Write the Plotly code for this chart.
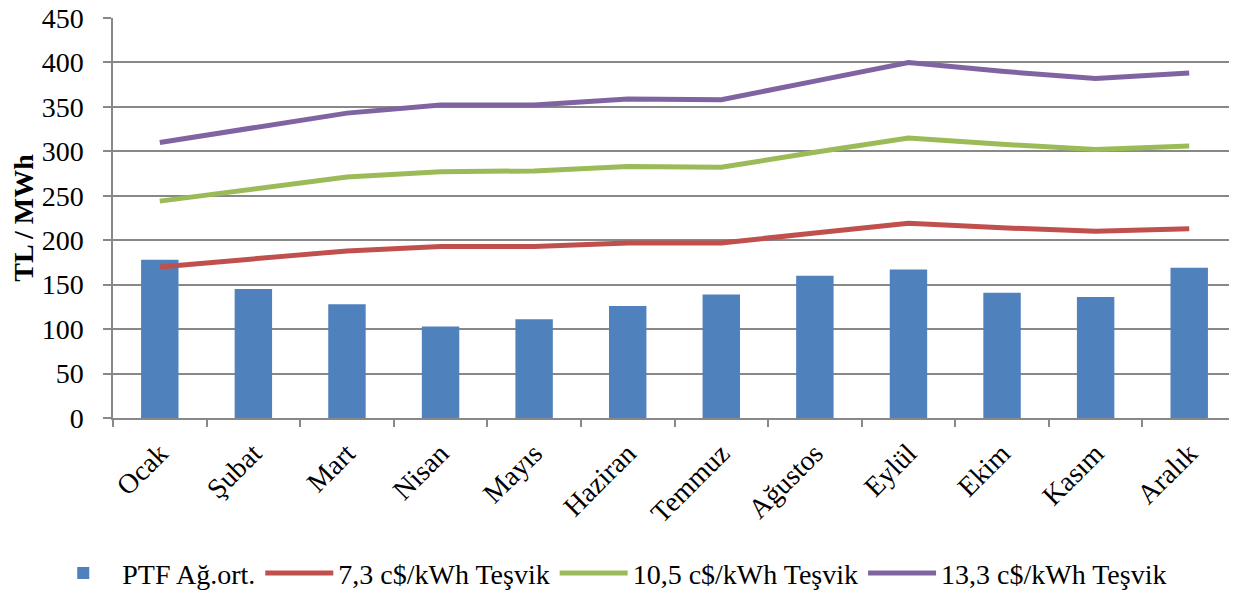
import plotly.graph_objects as go

months = ["Ocak", "Şubat", "Mart", "Nisan", "Mayıs", "Haziran",
          "Temmuz", "Ağustos", "Eylül", "Ekim", "Kasım", "Aralık"]

ptf = [178, 145, 128, 103, 111, 126, 139, 160, 167, 141, 136, 169]
tesvik_73 = [170, 179, 188, 193, 193, 197, 197, 208, 219, 214, 210, 213]
tesvik_105 = [244, 258, 271, 277, 278, 283, 282, 299, 315, 308, 302, 306]
tesvik_133 = [310, 326, 343, 352, 352, 359, 358, 379, 400, 390, 382, 388]

font_name = "Liberation Serif"

fig = go.Figure()

fig.add_trace(go.Bar(x=months, y=ptf, name="PTF Ağ.ort.",
                     marker=dict(color="#4F81BD", line=dict(width=0))))
fig.add_trace(go.Scatter(x=months, y=tesvik_73, name="7,3 c$/kWh Teşvik",
                         mode="lines", line=dict(color="#C0504D", width=5)))
fig.add_trace(go.Scatter(x=months, y=tesvik_105, name="10,5 c$/kWh Teşvik",
                         mode="lines", line=dict(color="#9BBB59", width=5)))
fig.add_trace(go.Scatter(x=months, y=tesvik_133, name="13,3 c$/kWh Teşvik",
                         mode="lines", line=dict(color="#8064A2", width=5)))

# the page body adds an 8px offset, margins are shifted to compensate
fig.update_layout(
    width=1237, height=593,
    margin=dict(l=105, r=9, t=10, b=183, autoexpand=False),
    paper_bgcolor="white", plot_bgcolor="white",
    font=dict(family=font_name, size=28, color="black"),
    bargap=0.6,
    showlegend=True,
    legend=dict(orientation="h", x=0.441, xanchor="center", y=-0.388, yanchor="middle",
                font=dict(size=28), itemwidth=68, traceorder="normal"),
)

fig.update_xaxes(
    type="category", tickangle=-45, tickson="boundaries",
    ticks="outside", ticklen=7, tickcolor="#888888", tickwidth=1.5,
    showline=True, linecolor="#888888", linewidth=1.5,
    showgrid=False, tickfont=dict(size=28), automargin=False,
    ticklabelstandoff=6,
)
fig.update_yaxes(
    range=[0, 450], dtick=50,
    ticks="outside", ticklen=8, tickcolor="#888888", tickwidth=1.5,
    showline=True, linecolor="#888888", linewidth=1.5,
    showgrid=True, gridcolor="#888888", gridwidth=1.5,
    zeroline=False, tickfont=dict(size=28), automargin=False,
    ticklabelstandoff=14, ticklabeloverflow="allow",
    title=dict(text="<b>TL / MWh</b>", font=dict(size=28), standoff=9),
)

fig.write_html("out.html")
